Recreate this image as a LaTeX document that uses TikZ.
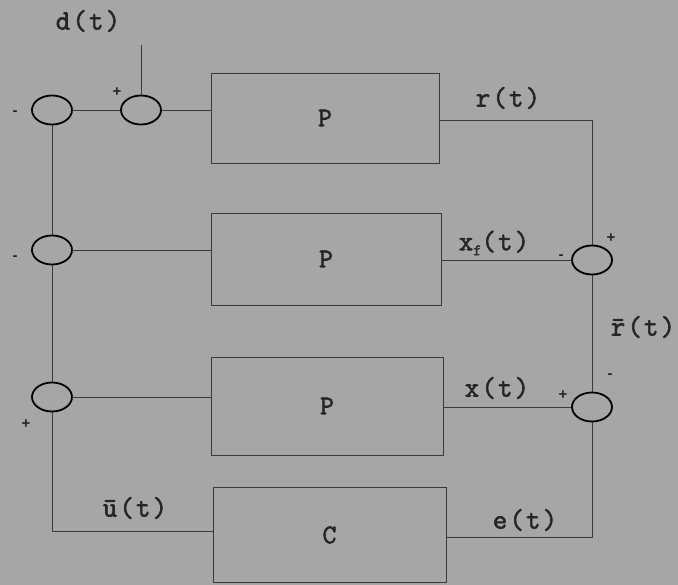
\documentclass[tikz,border=0pt]{standalone}
\usepackage{fontspec}
\newfontfamily\sigfont{Latin Modern Mono}[FakeBold=2.2,LetterSpace=8]
\newfontfamily\sgnfont{Liberation Sans Bold}
\usetikzlibrary{shapes.geometric,calc}
\definecolor{paper}{HTML}{A6A6A6}
\definecolor{ink}{HTML}{3A3A3A}
\begin{document}
\begin{tikzpicture}[x=1pt,y=-1pt,
  wire/.style={draw=ink,line width=0.9pt},
  block/.style={draw=ink,line width=0.9pt,rectangle,inner sep=0pt,
    font=\fontsize{27}{27}\sigfont,text=black!85},
  summer/.style={draw=black,line width=1.8pt,ellipse,inner sep=0pt,
    minimum width=40pt,minimum height=29pt},
  sig/.style={font=\fontsize{28}{28}\sigfont,inner sep=0pt,text=black!85},
  sgn/.style={font=\fontsize{15}{15}\sgnfont,inner sep=0pt,text=black!85}]
  \fill[paper] (0,0) rectangle (678,585);
  \useasboundingbox (0,0) rectangle (678,585);

  % plant and controller blocks
  \node[block,minimum width=228pt,minimum height=90pt] (P1) at (325,118) {P};
  \node[block,minimum width=230pt,minimum height=92pt] (P2) at (326,259) {P};
  \node[block,minimum width=232pt,minimum height=98pt] (P3) at (327,406) {P};
  \node[block,minimum width=233pt,minimum height=95pt] (C)  at (329.5,535) {C};

  % summing junctions
  \node[summer] (S1) at (52,110) {};
  \node[summer] (S2) at (141,110) {};
  \node[summer] (S4) at (52,250) {};
  \node[summer] (S5) at (52,397) {};
  \node[summer] (S3) at (592,260) {};
  \node[summer] (S6) at (592,407) {};

  \coordinate (dtop) at (141,45);
  \coordinate (rc) at (592,120);
  \coordinate (uc) at (52,531);
  \coordinate (ec) at (592,537);

  % connections
  \draw[wire] (dtop) -- (S2.north);
  \draw[wire] (S1.east) -- (S2.west);
  \draw[wire] (S2.east) -- (S2.east -| P1.west);
  \draw[wire] (S1.south) -- (S4.north);
  \draw[wire] (S4.south) -- (S5.north);
  \draw[wire] (S4.east) -- (S4.east -| P2.west);
  \draw[wire] (S5.east) -- (S5.east -| P3.west);
  \draw[wire] (S5.south) -- (uc) -- (uc -| C.west);
  \draw[wire] (P1.east |- rc) -- (rc) -- (S3.north);
  \draw[wire] (P2.east |- S3.west) -- (S3.west);
  \draw[wire] (P3.east |- S6.west) -- (S6.west);
  \draw[wire] (S3.south) -- (S6.north);
  \draw[wire] (S6.south) -- (ec) -- (ec -| C.east);

  % signal names
  \node[sig] (ld) at (88,21) {d(t)};
  \node[sig] (lr) at (508,98) {r(t)};
  \node[sig] (lxf) at (494,243) {x\raisebox{-5pt}{\fontsize{16}{16}\selectfont f}(t)};
  \node[sig] (lrb) at (643,327) {\=r(t)};
  \node[sig] (lx) at (497,388) {x(t)};
  \node[sig] (lu) at (135,508) {\=u(t)};
  \node[sig] (le) at (525,520) {e(t)};

  % signs at the junction inputs
  \node[sgn] (m1) at (15,113) {-};
  \node[sgn] (p2) at (117,92) {+};
  \node[sgn] (m4) at (15,258) {-};
  \node[sgn] (p5) at (26,424) {+};
  \node[sgn] (p3) at (611,238) {+};
  \node[sgn] (m3) at (561,257) {-};
  \node[sgn] (p6) at (563,395) {+};
  \node[sgn] (m6) at (610,376) {-};
\end{tikzpicture}
\end{document}
